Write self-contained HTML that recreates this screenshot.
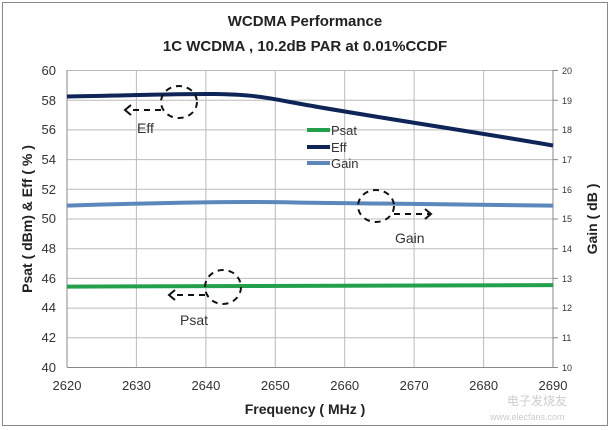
<!DOCTYPE html>
<html><head><style>body{margin:0;background:#fff}svg{display:block}text{font-family:"Liberation Sans",sans-serif}</style></head><body>
<svg width="610" height="430" viewBox="0 0 610 430">
<rect x="2.5" y="2.5" width="605" height="423" fill="#fff" stroke="#888" stroke-width="1"/>
<text x="305" y="26" text-anchor="middle" font-size="15" font-weight="bold" fill="#222">WCDMA  Performance</text>
<text x="305" y="51" text-anchor="middle" font-size="15" font-weight="bold" fill="#222">1C  WCDMA , 10.2dB PAR at 0.01%CCDF</text>
<g stroke="#bbb" stroke-width="1">
<line x1="67" y1="70.5" x2="553" y2="70.5"/><line x1="67" y1="100.2" x2="553" y2="100.2"/><line x1="67" y1="129.9" x2="553" y2="129.9"/><line x1="67" y1="159.6" x2="553" y2="159.6"/><line x1="67" y1="189.3" x2="553" y2="189.3"/><line x1="67" y1="219" x2="553" y2="219"/><line x1="67" y1="248.7" x2="553" y2="248.7"/><line x1="67" y1="278.4" x2="553" y2="278.4"/><line x1="67" y1="308.1" x2="553" y2="308.1"/><line x1="67" y1="337.8" x2="553" y2="337.8"/>
<line x1="136.4" y1="70" x2="136.4" y2="367"/><line x1="205.9" y1="70" x2="205.9" y2="367"/><line x1="275.3" y1="70" x2="275.3" y2="367"/><line x1="344.7" y1="70" x2="344.7" y2="367"/><line x1="414.1" y1="70" x2="414.1" y2="367"/><line x1="483.6" y1="70" x2="483.6" y2="367"/>
</g>
<g stroke="#888" stroke-width="1"><line x1="67" y1="70" x2="67" y2="367"/><line x1="553" y1="70" x2="553" y2="367"/><line x1="67" y1="367.5" x2="553" y2="367.5"/>
<path d="M553 70.5h5M553 100.2h5M553 129.9h5M553 159.6h5M553 189.3h5M553 219h5M553 248.7h5M553 278.4h5M553 308.1h5M553 337.8h5M553 367.5h5"/></g>
<g font-size="13" fill="#333" text-anchor="end">
<text x="56" y="75">60</text><text x="56" y="105">58</text><text x="56" y="134">56</text><text x="56" y="164">54</text><text x="56" y="194">52</text><text x="56" y="223">50</text><text x="56" y="253">48</text><text x="56" y="283">46</text><text x="56" y="312">44</text><text x="56" y="342">42</text><text x="56" y="372">40</text></g>
<g font-size="9" fill="#333"><text x="562" y="74">20</text><text x="562" y="104">19</text><text x="562" y="133">18</text><text x="562" y="163">17</text><text x="562" y="193">16</text><text x="562" y="222">15</text><text x="562" y="252">14</text><text x="562" y="282">13</text><text x="562" y="311">12</text><text x="562" y="341">11</text><text x="562" y="371">10</text></g>
<g font-size="13" fill="#333" text-anchor="middle"><text x="67" y="390">2620</text><text x="136.4" y="390">2630</text><text x="205.9" y="390">2640</text><text x="275.3" y="390">2650</text><text x="344.7" y="390">2660</text><text x="414.1" y="390">2670</text><text x="483.6" y="390">2680</text><text x="553" y="390">2690</text></g>
<text x="305" y="414" text-anchor="middle" font-size="14" font-weight="bold" fill="#222">Frequency ( MHz )</text>
<text transform="translate(32 219) rotate(-90)" text-anchor="middle" font-size="14" font-weight="bold" fill="#222">Psat ( dBm) &amp; Eff ( % )</text>
<text transform="translate(597 219) rotate(-90)" text-anchor="middle" font-size="14" font-weight="bold" fill="#222">Gain ( dB )</text>
<path d="M67 96.5 C130 95.5 180 93.5 215 94 C245 94.5 260 96 290 102 C360 115 470 131 553 145.5" fill="none" stroke="#0f2557" stroke-width="4"/>
<path d="M67 205.6 C150 203 250 201 300 202.6 C400 203 480 204 553 205.6" fill="none" stroke="#5b87bd" stroke-width="4"/>
<path d="M67 286.6 L553 285.1" fill="none" stroke="#22a04b" stroke-width="4"/>
<g stroke-width="4"><line x1="307" y1="130" x2="330" y2="130" stroke="#22a04b"/><line x1="307" y1="147" x2="330" y2="147" stroke="#0f2557"/><line x1="307" y1="163" x2="330" y2="163" stroke="#5b87bd"/></g>
<g font-size="13" fill="#333"><text x="331" y="135">Psat</text><text x="331" y="152">Eff</text><text x="331" y="168">Gain</text></g>
<g fill="none" stroke="#111" stroke-width="2" stroke-dasharray="6,5">
<ellipse cx="179" cy="102" rx="18" ry="16"/><ellipse cx="376" cy="206" rx="18" ry="16"/><ellipse cx="223" cy="287" rx="18" ry="17"/>
<path d="M161 110H128M394 214h36M205 295H172"/></g>
<g stroke="#111" stroke-width="2" fill="none"><path d="M131 105l-6 5 6 5M425 209l6 5-6 5M175 290l-6 5 6 5"/></g>
<g font-size="14" fill="#333"><text x="137" y="133">Eff</text><text x="395" y="243">Gain</text><text x="180" y="325">Psat</text></g>
<text x="507" y="405" font-size="12" fill="#ccc">电子发烧友</text>
<text x="490" y="420" font-size="9" fill="#ccc">www.elecfans.com</text>
</svg>
</body></html>
